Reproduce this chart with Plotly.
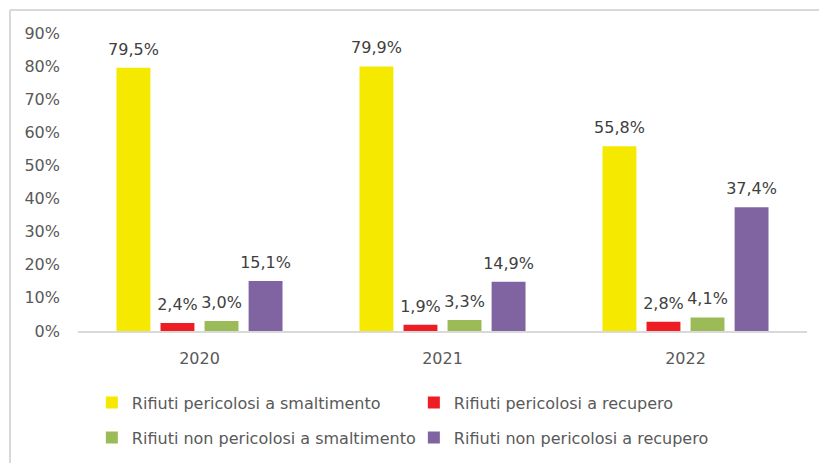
import plotly.graph_objects as go

years = ["2020", "2021", "2022"]
series_names = [
    "Rifiuti pericolosi a smaltimento",
    "Rifiuti pericolosi a recupero",
    "Rifiuti non pericolosi a smaltimento",
    "Rifiuti non pericolosi a recupero",
]
pericolosi_smaltimento = [0.795, 0.799, 0.558]
pericolosi_recupero = [0.024, 0.019, 0.028]
non_pericolosi_smaltimento = [0.030, 0.033, 0.041]
non_pericolosi_recupero = [0.151, 0.149, 0.374]
colors = ["#F5E900", "#EE1D23", "#9BBB59", "#8064A2"]
# first two series in the top legend row, last two in the bottom row
legend_rows = ["legend", "legend", "legend2", "legend2"]

values = [
    pericolosi_smaltimento,
    pericolosi_recupero,
    non_pericolosi_smaltimento,
    non_pericolosi_recupero,
]

FONT = "DejaVu Sans"

fig = go.Figure()
for name, vals, col, leg in zip(series_names, values, colors, legend_rows):
    fig.add_bar(
        x=years,
        y=vals,
        name=name,
        legend=leg,
        marker=dict(color=col, line=dict(width=0)),
    )
# value labels: invisible grouped markers so the text sits a bit above the bars
for name, vals in zip(series_names, values):
    fig.add_scatter(
        x=years,
        y=vals,
        mode="markers+text",
        marker=dict(size=13, opacity=0),
        text=[f"{v * 100:.1f}%".replace(".", ",") for v in vals],
        textposition="top center",
        textfont=dict(family=FONT, size=16, color="#404040"),
        showlegend=False,
        hoverinfo="skip",
        cliponaxis=False,
    )

legend_style = dict(
    orientation="h",
    x=0.019,
    xanchor="left",
    yref="container",
    yanchor="top",
    entrywidth=277,
    font=dict(family=FONT, size=16, color="#595959"),
    traceorder="normal",
)

fig.update_layout(
    width=819,
    height=463,
    margin=dict(l=78, r=12, t=33, b=132),
    paper_bgcolor="white",
    plot_bgcolor="white",
    font=dict(family=FONT, size=16, color="#595959"),
    barmode="group",
    bargap=0.275,
    bargroupgap=0.23,
    scattermode="group",
    scattergap=0.275,
    showlegend=True,
    legend=dict(legend_style, y=0.1674),
    legend2=dict(legend_style, y=0.0918),
    xaxis=dict(
        showline=True,
        linecolor="#D9D9D9",
        linewidth=2,
        ticks="",
        showgrid=False,
        ticklabelstandoff=12,
        tickfont=dict(family=FONT, size=16, color="#595959"),
    ),
    yaxis=dict(
        range=[0, 0.9],
        dtick=0.1,
        tickformat=".0%",
        showgrid=False,
        zeroline=False,
        ticks="",
        ticklabelstandoff=17,
        tickfont=dict(family=FONT, size=16, color="#595959"),
    ),
    shapes=[
        dict(type="line", xref="paper", yref="paper",
             x0=-0.0933, x1=1.1, y0=1.0772, y1=1.0772,
             line=dict(color="#D9D9D9", width=2)),
        dict(type="line", xref="paper", yref="paper",
             x0=-0.0933, x1=-0.0933, y0=1.0772, y1=-0.6,
             line=dict(color="#D9D9D9", width=2)),
    ],
)

fig.write_html(
    "out.html",
    config={"displayModeBar": False},
    post_script="document.body.style.margin='0';",
)
